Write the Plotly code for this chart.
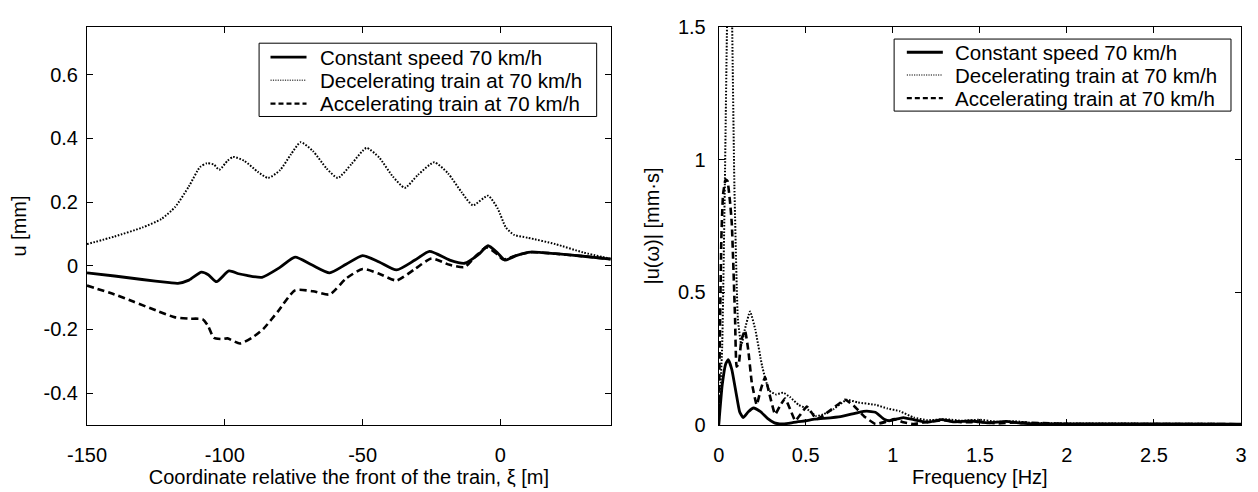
import plotly.graph_objects as go

# ---------------- Left panel: displacement vs coordinate ----------------
xi_const = [-150, -140, -130, -120, -117, -113, -108.5, -106, -103, -98.5, -95, -92, -86.5, -80,
            -74.5, -68.5, -62, -56, -50, -44, -37.7, -31, -25.7, -18.4, -13, -8, -4.5, -1,
            1.6, 6, 11, 20, 30, 40]
u_const = [-0.022, -0.032, -0.043, -0.053, -0.055, -0.045, -0.02, -0.028, -0.05, -0.016, -0.025,
           -0.03, -0.036, -0.005, 0.027, 0.003, -0.022, 0.005, 0.032, 0.012, -0.013, 0.018, 0.045,
           0.018, 0.008, 0.035, 0.063, 0.04, 0.018, 0.033, 0.043, 0.038, 0.03, 0.021]

xi_dec = [-150, -140, -130, -123, -118, -113, -109, -106.5, -104, -102, -99, -97, -93, -88, -84.3,
          -80, -76, -72.5, -68, -63, -59, -54, -48.6, -44, -39, -34.7, -30, -24, -19, -14, -10,
          -4.5, -1, 2, 5, 10, 20, 30, 40]
u_dec = [0.068, 0.092, 0.12, 0.147, 0.185, 0.25, 0.31, 0.322, 0.318, 0.302, 0.33, 0.342, 0.33,
         0.295, 0.276, 0.3, 0.35, 0.388, 0.36, 0.305, 0.276, 0.32, 0.37, 0.34, 0.28, 0.245, 0.285,
         0.325, 0.29, 0.23, 0.19, 0.22, 0.18, 0.12, 0.097, 0.088, 0.068, 0.042, 0.022]

xi_acc = [-150, -140, -133, -125, -118, -113, -108, -106, -104, -101, -99, -94.5, -90, -86, -80.7,
          -74.5, -68, -62, -56, -50, -44, -37.7, -31, -25, -18.4, -13, -9, -5, -1, 1, 6, 11, 20,
          30, 40]
u_acc = [-0.062, -0.09, -0.113, -0.14, -0.162, -0.166, -0.168, -0.19, -0.226, -0.23, -0.228,
         -0.244, -0.225, -0.198, -0.143, -0.077, -0.08, -0.09, -0.04, -0.01, -0.025, -0.046, -0.01,
         0.023, 0.003, -0.004, 0.03, 0.058, 0.035, 0.02, 0.033, 0.043, 0.038, 0.03, 0.021]

# ---------------- Right panel: spectrum ----------------
f_const = [0, 0.02, 0.04, 0.055, 0.075, 0.1, 0.12, 0.14, 0.17, 0.2, 0.24, 0.28, 0.32, 0.35, 0.4,
           0.45, 0.5, 0.55, 0.6, 0.7, 0.8, 0.85, 0.9, 0.95, 0.98, 1.06, 1.12, 1.2, 1.28, 1.35,
           1.45, 1.55, 1.65, 1.75, 2.0, 2.5, 3.0]
a_const = [0, 0.15, 0.23, 0.246, 0.21, 0.12, 0.05, 0.028, 0.05, 0.064, 0.05, 0.025, 0.008, 0.004,
           0.006, 0.012, 0.016, 0.022, 0.025, 0.032, 0.047, 0.052, 0.048, 0.022, 0.016, 0.028,
           0.02, 0.01, 0.02, 0.012, 0.015, 0.008, 0.014, 0.006, 0.004, 0.004, 0.003]

f_dec = [0, 0.02, 0.035, 0.05, 0.065, 0.075, 0.09, 0.11, 0.13, 0.15, 0.18, 0.21, 0.25, 0.29, 0.33,
         0.37, 0.41, 0.46, 0.5, 0.56, 0.6, 0.66, 0.735, 0.8, 0.9, 0.97, 1.04, 1.12, 1.2, 1.3, 1.4,
         1.5, 1.6, 1.7, 1.8, 2.0, 2.5, 3.0]
a_dec = [0, 0.3, 0.9, 1.6, 1.9, 1.6, 0.9, 0.4, 0.3, 0.36, 0.428, 0.36, 0.22, 0.13, 0.115, 0.122,
         0.105, 0.075, 0.064, 0.034, 0.04, 0.06, 0.095, 0.085, 0.076, 0.062, 0.052, 0.028, 0.018,
         0.022, 0.016, 0.02, 0.012, 0.014, 0.008, 0.006, 0.005, 0.004]

f_acc = [0, 0.008, 0.015, 0.025, 0.04, 0.05, 0.065, 0.075, 0.085, 0.094, 0.103, 0.115, 0.13, 0.151,
         0.17, 0.19, 0.218, 0.24, 0.266, 0.29, 0.324, 0.35, 0.381, 0.41, 0.44, 0.47, 0.506, 0.535,
         0.563, 0.6, 0.65, 0.726, 0.78, 0.84, 0.9, 0.96, 1.01, 1.06, 1.12, 1.2, 1.3, 1.4, 1.5,
         1.6, 1.7, 2.0, 2.5, 3.0]
a_acc = [0, 0.4, 0.7, 0.87, 0.925, 0.92, 0.84, 0.76, 0.58, 0.4, 0.22, 0.23, 0.32, 0.356, 0.28,
         0.16, 0.076, 0.13, 0.18, 0.12, 0.04, 0.07, 0.1, 0.06, 0.016, 0.04, 0.07, 0.045, 0.022,
         0.035, 0.06, 0.095, 0.07, 0.03, 0.004, 0.012, 0.022, 0.01, 0.004, 0.012, 0.018, 0.01,
         0.012, 0.006, 0.01, 0.004, 0.004, 0.003]

names = ["Constant speed 70 km/h", "Decelerating train at 70 km/h", "Accelerating train at 70 km/h"]

left_xticks = [-150, -100, -50, 0]
left_yticks = [-0.4, -0.2, 0, 0.2, 0.4, 0.6]
right_xticks = [0, 0.5, 1, 1.5, 2, 2.5, 3]
right_yticks = [0, 0.5, 1, 1.5]

FONT = "Liberation Sans, Arial, sans-serif"
FS = 20
styles = [
    dict(color="black", width=2.8),
    dict(color="black", width=2.0, dash="1.6px,1.6px"),
    dict(color="black", width=2.6, dash="7px,4px"),
]
legend_styles = [
    dict(color="black", width=2.8),
    dict(color="#555555", width=1.6, dash="1.2px,1.2px"),
    dict(color="black", width=2.4, dash="5px,3px"),
]

fig = go.Figure()
left_data = [(xi_const, u_const), (xi_dec, u_dec), (xi_acc, u_acc)]
right_data = [(f_const, a_const), (f_dec, a_dec), (f_acc, a_acc)]
for i, (x, y) in enumerate(left_data):
    fig.add_trace(go.Scatter(x=x, y=y, mode="lines", name=names[i], showlegend=False,
                             line=dict(**styles[i], shape="spline", smoothing=0.6),
                             xaxis="x", yaxis="y"))
for i, (x, y) in enumerate(right_data):
    fig.add_trace(go.Scatter(x=x, y=y, mode="lines", name=names[i], showlegend=False,
                             line=dict(**styles[i], shape="spline", smoothing=0.4),
                             xaxis="x2", yaxis="y2"))

axis_common = dict(showline=True, linecolor="black", linewidth=1, mirror="ticks", ticks="inside",
                   ticklen=6, tickcolor="black", showgrid=False, zeroline=False,
                   ticklabeloverflow="allow",
                   tickfont=dict(family=FONT, size=FS, color="black"))

# the page body has an 8px default margin; work in window pixels and shift
OFF = 8
W, H = 1258 - OFF, 492 - OFF
L, R, T, B = 87.3, 1240.7, 15.5, 428.2   # plot-area edges in window pixels
ml, mr, mt, mb = L - OFF, (1258 - R), T - OFF, (492 - B)
pw = W - ml - mr
ph = H - mt - mb

def px(xp):
    return (xp - L) / pw

def py(yp):
    return (B - yp) / ph

# legend boxes drawn in window-pixel terms (box, sample line, text start, row centres)
legend_boxes = [
    dict(box=(259.3, 32.3, 596.7, 108.3), line=(270.7, 306.7), text_x=318, rows=(46.7, 70.7, 95.0)),
    dict(box=(894.0, 28.0, 1230.7, 102.7), line=(906.7, 942.7), text_x=953, rows=(41.7, 65.3, 89.3)),
]
shapes, annotations = [], []
for lg in legend_boxes:
    x0, y0, x1, y1 = lg["box"]
    shapes.append(dict(type="rect", xref="paper", yref="paper", x0=px(x0), x1=px(x1),
                       y0=py(y1), y1=py(y0), line=dict(color="black", width=1),
                       fillcolor="white", layer="above"))
    for i, ry in enumerate(lg["rows"]):
        shapes.append(dict(type="line", xref="paper", yref="paper", x0=px(lg["line"][0]),
                           x1=px(lg["line"][1]), y0=py(ry), y1=py(ry),
                           line=legend_styles[i], layer="above"))
        annotations.append(dict(xref="paper", yref="paper", x=px(lg["text_x"]), y=py(ry),
                                xanchor="left", yanchor="middle", showarrow=False,
                                text=names[i], font=dict(family=FONT, size=20.5, color="black")))

fig.update_layout(
    width=W, height=H, margin=dict(l=ml, r=mr, t=mt, b=mb),
    paper_bgcolor="white", plot_bgcolor="white",
    font=dict(family=FONT, size=FS, color="black"),
    showlegend=False,
    xaxis=dict(domain=[0, px(610.7)], range=[-150, 40], tickvals=left_xticks,
               ticktext=[str(v) for v in left_xticks], ticklabelstandoff=12,
               title=dict(text="Coordinate relative the front of the train, ξ [m]", standoff=4,
                          font=dict(family=FONT, size=FS)), anchor="y", **axis_common),
    yaxis=dict(domain=[0, 1], range=[-0.5, 0.75], tickvals=left_yticks,
               ticktext=["-0.4", "-0.2", "0", "0.2", "0.4", "0.6"], ticklabelstandoff=4,
               title=dict(text="u [mm]", standoff=12, font=dict(family=FONT, size=FS)),
               anchor="x", **axis_common),
    xaxis2=dict(domain=[px(718.7), 1], range=[0, 3], tickvals=right_xticks,
                ticktext=["0", "0.5", "1", "1.5", "2", "2.5", "3"], ticklabelstandoff=12,
                title=dict(text="Frequency [Hz]", standoff=4, font=dict(family=FONT, size=FS)),
                anchor="y2", **axis_common),
    yaxis2=dict(domain=[0, 1], range=[0, 1.5], tickvals=right_yticks,
                ticktext=["0", "0.5", "1", "1.5"], ticklabelstandoff=8,
                title=dict(text="|u(ω)| [mm·s]", standoff=12, font=dict(family=FONT, size=FS)),
                anchor="x2", **axis_common),
    shapes=shapes,
    annotations=annotations,
)

fig.write_html("out.html")
